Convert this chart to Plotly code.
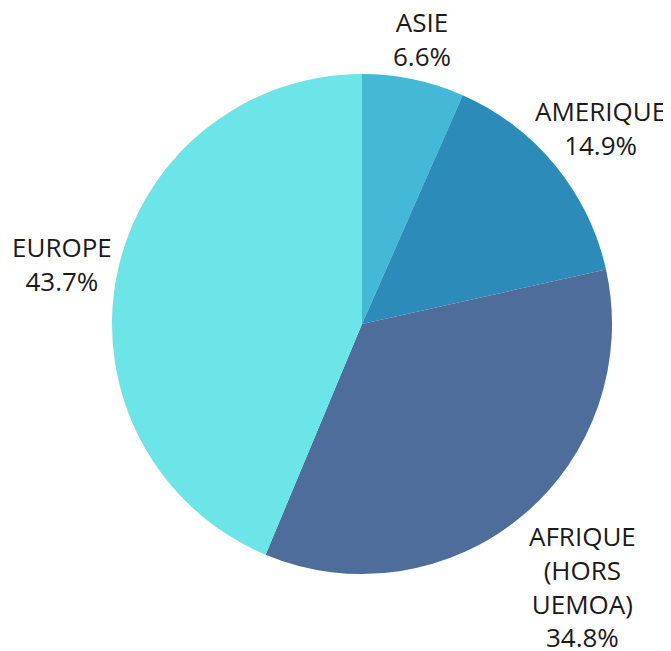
import math

import plotly.graph_objects as go

regions = ["ASIE", "AMERIQUE", "AFRIQUE<br>(HORS<br>UEMOA)", "EUROPE"]
shares = [6.6, 14.9, 34.8, 43.7]
colors = ["#44b9d7", "#2d8bba", "#4e6d9a", "#6be5e8"]

# figure sits 8px in from the window edge (page body margin)
W, H = 663, 643
CX, CY, R = 354, 316, 250
FONT_SIZE = 26
LINE_H = 1.25 * FONT_SIZE
GAP = 8

fig = go.Figure(
    go.Pie(
        labels=[r.replace("<br>", " ") for r in regions],
        values=shares,
        sort=False,
        direction="clockwise",
        rotation=0,
        marker={"colors": colors, "line": {"width": 0}},
        textinfo="none",
        hoverinfo="label+percent",
        domain={
            "x": [(CX - R) / W, (CX + R) / W],
            "y": [1 - (CY + R) / H, 1 - (CY - R) / H],
        },
    )
)

# outside labels, centred on each slice's mid-angle just beyond the rim
total = sum(shares)
cum = 0.0
for label, value in zip(regions, shares):
    theta = 2 * math.pi * (cum + value / 2) / total
    cum += value
    ux, uy = math.sin(theta), -math.cos(theta)
    lines = label.split("<br>") + ["0.0%"]
    half_w = 0.6 * FONT_SIZE * max(len(s) for s in lines) / 2
    half_h = LINE_H * len(lines) / 2
    reach = min(
        half_w / abs(ux) if abs(ux) > 1e-6 else 1e9,
        half_h / abs(uy) if abs(uy) > 1e-6 else 1e9,
    )
    dist = R + GAP + reach
    px, py = CX + dist * ux, CY + dist * uy
    fig.add_annotation(
        x=px / W,
        y=1 - py / H,
        xref="paper",
        yref="paper",
        xanchor="center",
        yanchor="middle",
        showarrow=False,
        borderpad=0,
        text=f"{label}<br>{value / total * 100:.1f}%",
        font={"family": "Open Sans", "size": FONT_SIZE, "color": "#1a1a1a"},
    )

fig.update_layout(
    width=W,
    height=H,
    showlegend=False,
    paper_bgcolor="#ffffff",
    plot_bgcolor="#ffffff",
    margin={"l": 0, "r": 0, "t": 0, "b": 0},
)

fig.write_html("out.html")
